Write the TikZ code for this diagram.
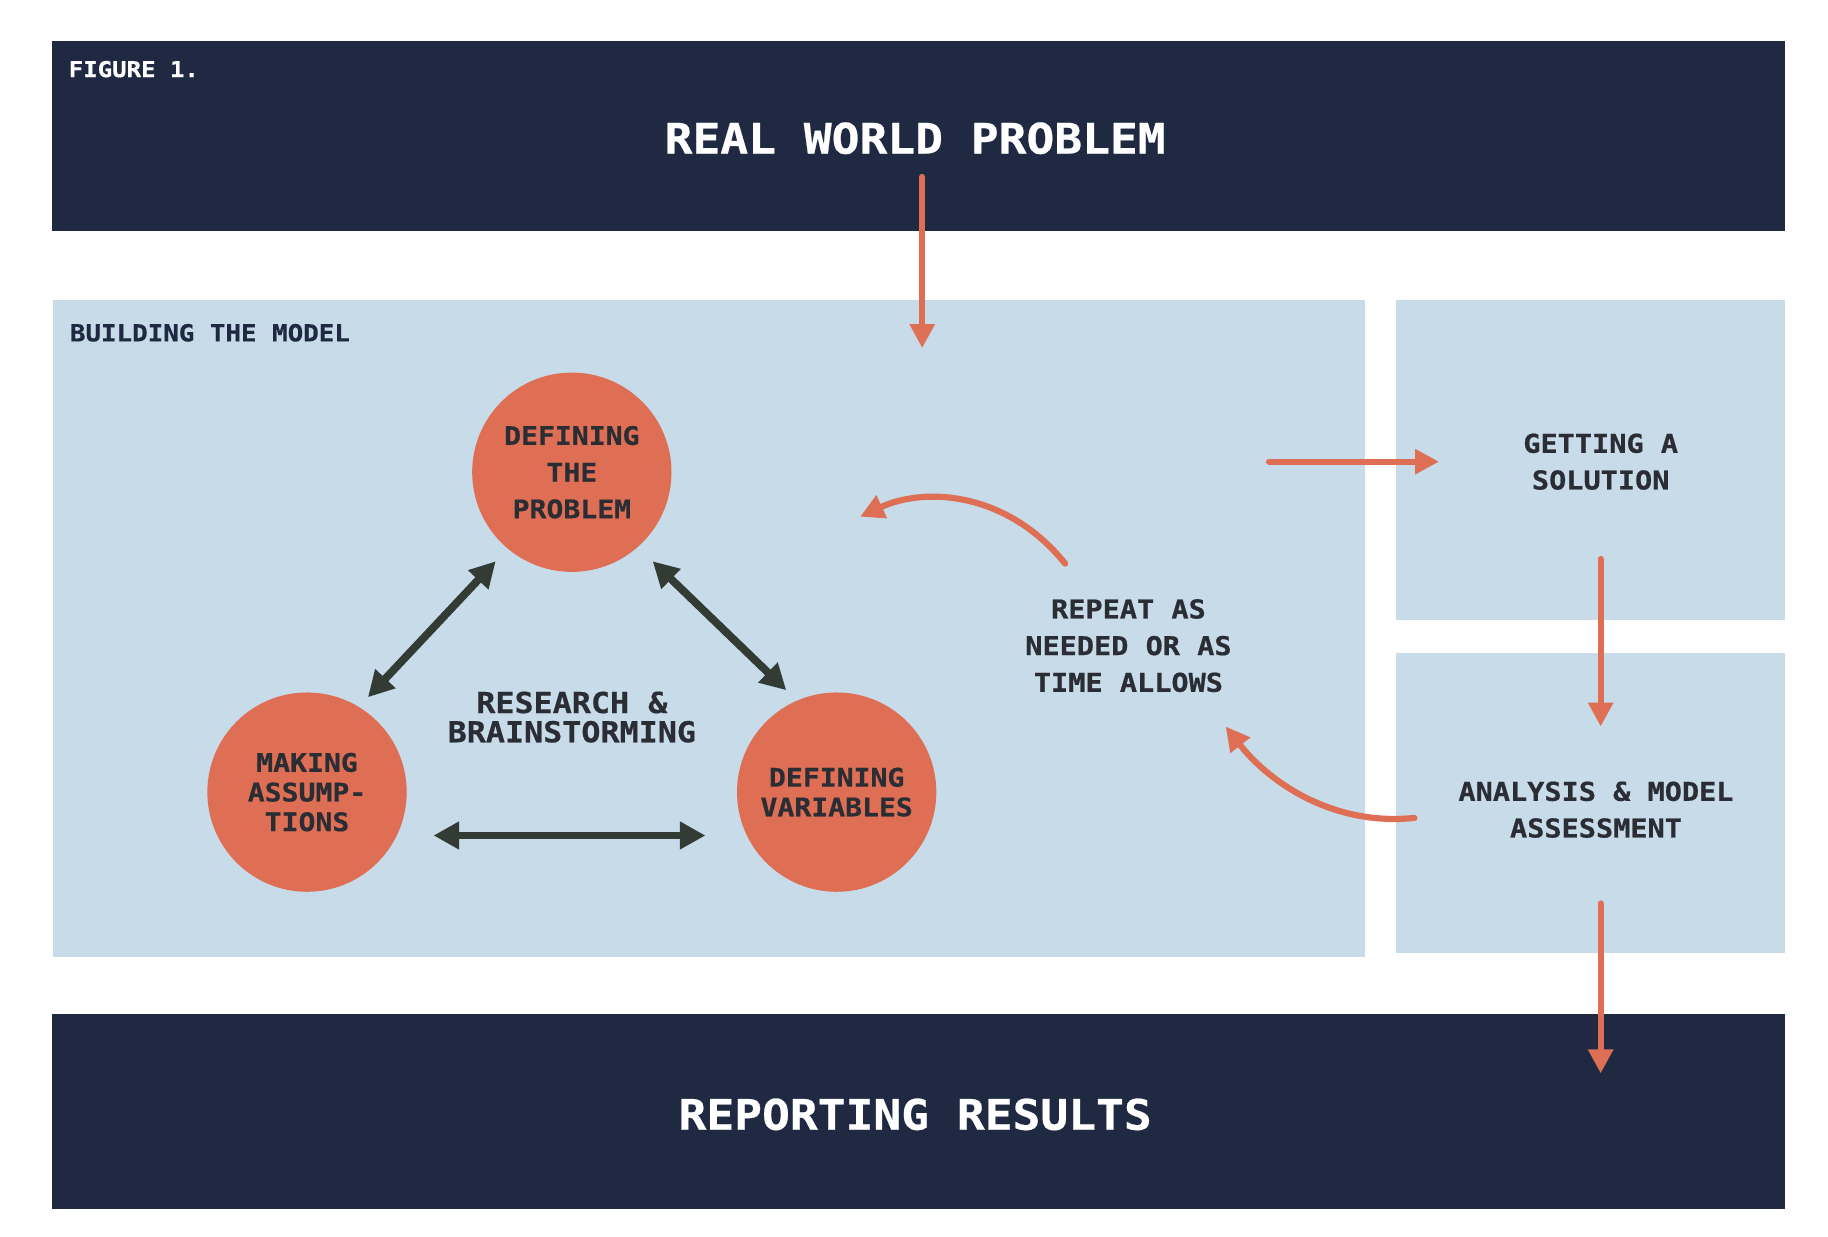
\documentclass[tikz,border=0pt]{standalone}
\usepackage{fontspec}
\newfontfamily\diagfont{DejaVu Sans Mono}[FakeStretch=1.1, BoldFeatures={FakeBold=0.6}]
\usepackage{tikz}
\usetikzlibrary{arrows.meta,positioning}
\definecolor{navy}{HTML}{1F2A42}
\definecolor{paleblue}{HTML}{C7DBE9}
\definecolor{coral}{HTML}{DE6F55}
\definecolor{slate}{HTML}{333B35}
\definecolor{ink}{HTML}{2B2D34}

\begin{document}
\begin{tikzpicture}[x=0.01cm, y=-0.01cm]
        % Define styles
        \tikzset{
            band/.style={fill=navy},
            panel/.style={fill=paleblue},
            phase/.style={circle, fill=coral, minimum size=1.7cm, inner sep=0pt, align=center, text=ink, font=\diagfont\bfseries\fontsize{6.2}{7.2}\selectfont},
            heading/.style={text=white, font=\diagfont\bfseries\fontsize{10.2}{12}\selectfont},
            note/.style={align=center, text=ink, font=\diagfont\bfseries\fontsize{6.3}{8.9}\selectfont},
            flow/.style={draw=coral, line width=1.5pt, line cap=round, -{Triangle[length=5.8pt,width=5.8pt]}},
            link/.style={draw=slate, line width=1.9pt, {Triangle[length=6.2pt,width=6.4pt]}-{Triangle[length=6.2pt,width=6.4pt]}}
        }

        % Page and panels
        \fill[white] (0,0) rectangle (1560,1055);
        \useasboundingbox (0,0) rectangle (1560,1055);
        \fill[band] (44,35) rectangle (1523,197);
        \fill[panel] (45,256) rectangle (1165,817);
        \fill[panel] (1191,256) rectangle (1523,529);
        \fill[panel] (1191,557) rectangle (1523,813);
        \fill[band] (44,865) rectangle (1523,1032);

        % Create nodes
        \node[anchor=west, inner sep=0pt, text=white, font=\diagfont\bfseries\fontsize{5.3}{6}\selectfont] (figure) at (58,59) {FIGURE 1.};
        \node[heading] (real) at (781,118) {REAL WORLD PROBLEM};
        \node[anchor=west, inner sep=0pt, text=navy, font=\diagfont\bfseries\fontsize{5.7}{6}\selectfont] (building) at (59,284) {BUILDING THE MODEL};
        \node[phase, font=\diagfont\bfseries\fontsize{6.2}{8.9}\selectfont] (problem) at (488,403) {DEFINING\\THE\\PROBLEM};
        \node[phase] (assump) at (262,676) {MAKING\\ASSUMP-\\TIONS};
        \node[phase] (vars) at (714,676) {DEFINING\\VARIABLES};
        \node[note, font=\diagfont\bfseries\fontsize{7}{7.1}\selectfont] (research) at (488,612) {RESEARCH \&\\BRAINSTORMING};
        \node[note] (repeat) at (963,551) {REPEAT AS\\NEEDED OR AS\\TIME ALLOWS};
        \node[note] (solution) at (1366,394) {GETTING A\\SOLUTION};
        \node[note] (analysis) at (1362,691) {ANALYSIS \& MODEL\\ASSESSMENT};
        \node[heading] (report) at (781,951) {REPORTING RESULTS};

        % Arrow ends
        \coordinate (rwtail) at (787,151);
        \coordinate (rwtip) at (787,297);
        \coordinate (soltail) at (1083,394);
        \coordinate (soltip) at (1228,394);
        \coordinate (antail) at (1366,477);
        \coordinate (antip) at (1366,620);
        \coordinate (reptail) at (1366,771);
        \coordinate (reptip) at (1366,916);
        \coordinate (looptail) at (909,481);
        \coordinate (looptip) at (734,441);
        \coordinate (backtail) at (1207,698);
        \coordinate (backtip) at (1046,620);

        % Create arrows
        \draw[flow] (rwtail) -- (rwtip);
        \draw[flow] (soltail) -- (soltip);
        \draw[flow] (antail) -- (antip);
        \draw[flow] (reptail) -- (reptip);
        \draw[flow] (looptail) .. controls (860,420) and (790,415) .. (looptip);
        \draw[flow] (backtail) .. controls (1140,705) and (1085,670) .. (backtip);

        \draw[link] ([shift={(-65,76)}]problem.center) -- ([shift={(52,-81)}]assump.center);
        \draw[link] ([shift={(69,76)}]problem.center) -- ([shift={(-43,-87)}]vars.center);
        \draw[link] ([shift={(108,37)}]assump.center) -- ([shift={(-112,37)}]vars.center);
    \end{tikzpicture}
\end{document}
